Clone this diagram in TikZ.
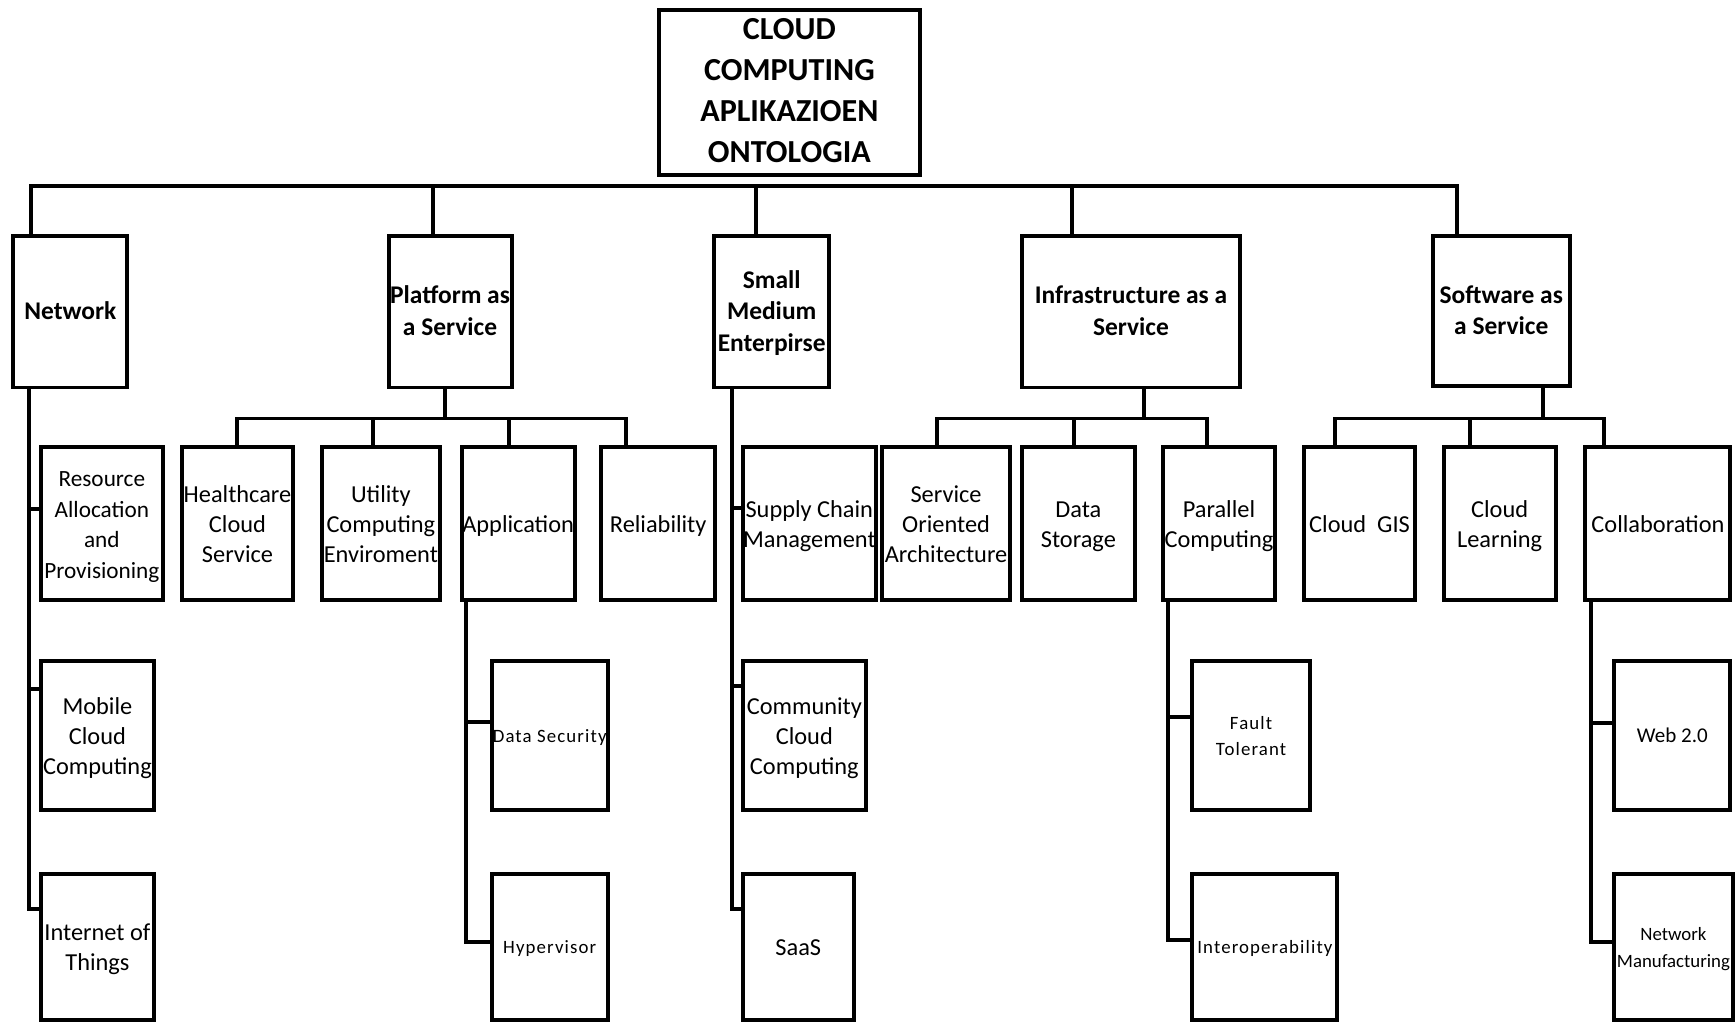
\documentclass[tikz,border=0pt]{standalone}
\usepackage{fontspec}
\setmainfont{Carlito}
\newfontfamily\spacedfont[LetterSpace=6]{Carlito}
\newcommand\ontodrop{0pt}
% box: style, name, x1, y1, x2, y2, lines of text
\newcommand\ontobox[7]{%
  \node[bx,#1,minimum width={#5-#3},minimum height={#6-#4}] (#2)
    at ({(#3+#5)/2},{(#4+#6)/2})
    {\makebox[0pt][c]{\raisebox{-\ontodrop}[\height][\depth]{\begin{tabular}{@{}c@{}}#7\end{tabular}}}};}
\begin{document}
\begin{tikzpicture}[x=1pt,y=-1pt,
  textdrop/.store in=\ontodrop,
  bx/.style={draw=black,rectangle,line width=3.6pt,inner sep=0pt,outer sep=0pt,fill=white,textdrop=0pt},
  conn/.style={draw=black,line width=3.6pt,line join=miter},
  lvl0/.style={font=\bfseries\fontsize{29}{37}\selectfont},
  lvl1/.style={font=\bfseries\fontsize{23}{28.5}\selectfont,textdrop=1.5pt},
  lvl2/.style={font=\fontsize{22}{27}\selectfont,textdrop=2.5pt},
  lvl2n/.style={font=\fontsize{21}{27.5}\selectfont,textdrop=2.5pt},
  lvl3/.style={font=\fontsize{17}{24}\selectfont,textdrop=2pt},
  lvl3w/.style={font=\fontsize{19}{24}\selectfont,textdrop=1pt},
  lvl3s/.style={font=\spacedfont\fontsize{17}{24}\selectfont,textdrop=1.5pt}]
\useasboundingbox (0,0) rectangle (1568,925);
\clip (0,0) rectangle (1568,925);

% root and first level
\ontobox{lvl0}{root}{595}{9}{831}{158}{CLOUD\\COMPUTING\\APLIKAZIOEN\\ONTOLOGIA}
\ontobox{lvl1}{net}{12}{213}{115}{350}{Network}
\ontobox{lvl1}{paas}{351}{213}{462}{350}{Platform as\\a Service}
\ontobox{lvl1}{sme}{645}{213}{749}{350}{Small\\Medium\\Enterpirse}
\ontobox{lvl1}{iaas}{923}{213}{1120}{350}{Infrastructure as a\\Service}
\ontobox{lvl1}{saas}{1294}{213}{1418}{349}{Software as\\a Service}

% second level
\ontobox{lvl2n}{res}{37}{404}{147}{542}{Resource\\Allocation\\and\\Provisioning}
\ontobox{lvl2}{hc}{164}{404}{265}{542}{Healthcare\\Cloud\\Service}
\ontobox{lvl2}{uce}{291}{404}{397}{542}{Utility\\Computing\\Enviroment}
\ontobox{lvl2}{app}{417}{404}{519}{542}{Application}
\ontobox{lvl2}{rel}{543}{404}{646}{542}{Reliability}
\ontobox{lvl2}{scm}{671}{404}{791}{542}{Supply Chain\\Management}
\ontobox{lvl2}{soa}{797}{404}{912}{542}{Service\\Oriented\\Architecture}
\ontobox{lvl2}{dst}{923}{404}{1025}{542}{Data\\Storage}
\ontobox{lvl2}{pc}{1050}{404}{1152}{542}{Parallel\\Computing}
\ontobox{lvl2}{gis}{1178}{404}{1278}{542}{Cloud~ GIS}
\ontobox{lvl2}{cl}{1304}{404}{1405}{542}{Cloud\\Learning}
\ontobox{lvl2}{col}{1432}{404}{1563}{542}{Collaboration}

% third level
\ontobox{lvl2}{mob}{37}{597}{139}{732}{Mobile\\Cloud\\Computing}
\ontobox{lvl2}{iot}{37}{789}{139}{921}{Internet of\\Things}
\ontobox{lvl3s}{dsec}{444}{597}{549}{732}{Data Security}
\ontobox{lvl3s}{hyp}{444}{789}{549}{921}{Hypervisor}
\ontobox{lvl2}{ccc}{671}{597}{782}{732}{Community\\Cloud\\Computing}
\ontobox{lvl2}{saasb}{671}{789}{771}{921}{SaaS}
\ontobox{lvl3s}{ft}{1077}{597}{1183}{732}{Fault\\Tolerant}
\ontobox{lvl3s}{iop}{1077}{789}{1208}{921}{Interoperability}
\ontobox{lvl3w}{web}{1458}{597}{1563}{732}{Web 2.0}
\ontobox{lvl3}{nm}{1458}{789}{1565}{921}{Network\\Manufacturing}

% main bus under the root
\coordinate (t1) at (28,168);
\coordinate (t2) at (391,168);
\coordinate (t3) at (683,168);
\coordinate (t4) at (968,168);
\coordinate (t5) at (1316,168);
\draw[conn] (t1 |- net.north) -- (t1) -- (t5) -- (t5 |- saas.north);
\draw[conn] (t2) -- (t2 |- paas.north);
\draw[conn] (t3) -- (t3 |- sme.north);
\draw[conn] (t4) -- (t4 |- iaas.north);

% Platform as a Service bus
\coordinate (pb) at (402,378);
\coordinate (p1) at (214,378);
\coordinate (p2) at (337,378);
\coordinate (p3) at (460,378);
\coordinate (p4) at (565,378);
\draw[conn] (pb |- paas.south) -- (pb);
\draw[conn] (p1 |- hc.north) -- (p1) -- (p4) -- (p4 |- rel.north);
\draw[conn] (p2) -- (p2 |- uce.north);
\draw[conn] (p3) -- (p3 |- app.north);

% Infrastructure as a Service bus
\coordinate (ib) at (1033,378);
\coordinate (i1) at (846,378);
\coordinate (i2) at (970,378);
\coordinate (i3) at (1090,378);
\draw[conn] (ib |- iaas.south) -- (ib);
\draw[conn] (i1 |- soa.north) -- (i1) -- (i3) -- (i3 |- pc.north);
\draw[conn] (i2) -- (i2 |- dst.north);

% Software as a Service bus
\coordinate (sb) at (1394,378);
\coordinate (s1) at (1206,378);
\coordinate (s2) at (1328,378);
\coordinate (s3) at (1449,378);
\draw[conn] (sb |- saas.south) -- (sb);
\draw[conn] (s1 |- gis.north) -- (s1) -- (s3) -- (s3 |- col.north);
\draw[conn] (s2) -- (s2 |- cl.north);

% Network branch
\coordinate (n1) at (26,460);
\coordinate (n2) at (26,622);
\coordinate (n3) at (26,821);
\draw[conn] (n3 |- net.south) -- (n3) -- (n3 -| iot.west);
\draw[conn] (n1) -- (n1 -| res.west);
\draw[conn] (n2) -- (n2 -| mob.west);

% Application branch
\coordinate (a1) at (421,652);
\coordinate (a2) at (421,851);
\draw[conn] (a2 |- app.south) -- (a2) -- (a2 -| hyp.west);
\draw[conn] (a1) -- (a1 -| dsec.west);

% Small Medium Enterpirse branch
\coordinate (e1) at (661,459);
\coordinate (e2) at (661,620);
\coordinate (e3) at (661,821);
\draw[conn] (e3 |- sme.south) -- (e3) -- (e3 -| saasb.west);
\draw[conn] (e1) -- (e1 -| scm.west);
\draw[conn] (e2) -- (e2 -| ccc.west);

% Parallel Computing branch
\coordinate (c1) at (1055,648);
\coordinate (c2) at (1055,849);
\draw[conn] (c2 |- pc.south) -- (c2) -- (c2 -| iop.west);
\draw[conn] (c1) -- (c1 -| ft.west);

% Collaboration branch
\coordinate (w1) at (1437,653);
\coordinate (w2) at (1437,851);
\draw[conn] (w2 |- col.south) -- (w2) -- (w2 -| nm.west);
\draw[conn] (w1) -- (w1 -| web.west);
\end{tikzpicture}
\end{document}
